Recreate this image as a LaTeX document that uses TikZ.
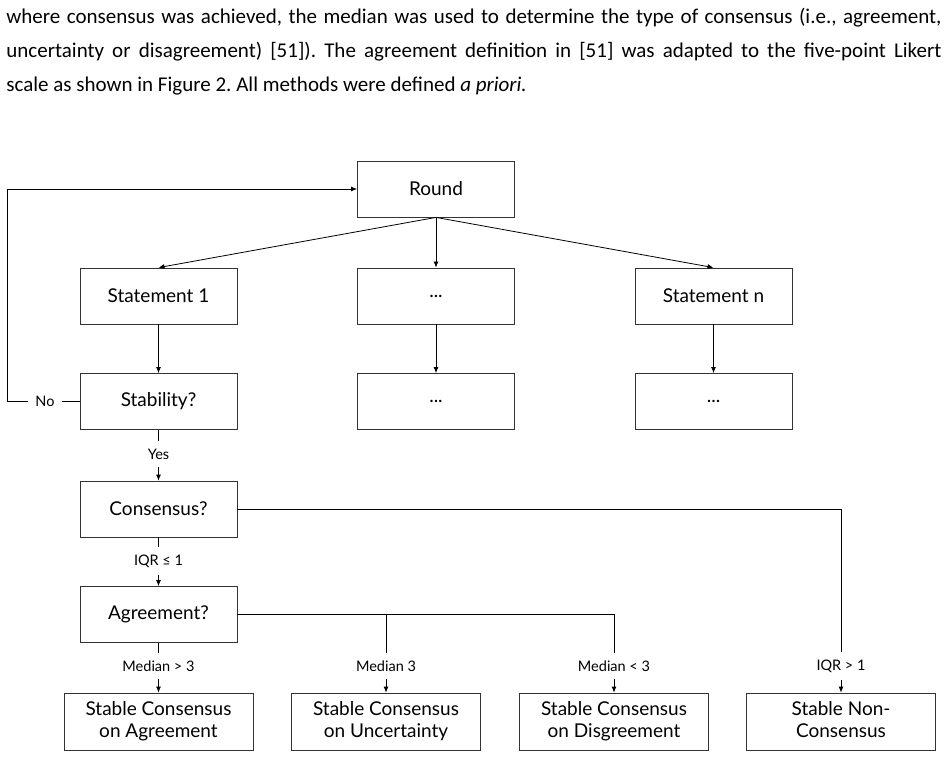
\documentclass[tikz,border=0pt]{standalone}
\usepackage{fontspec}
\usetikzlibrary{arrows.meta, positioning}
\setmainfont{Lato}
\newfontfamily\parafont{Carlito}
\frenchspacing
\tikzset{
    >={Latex[length=6pt, width=5pt]},
    flowbox/.style={draw=black!80, rectangle, minimum width=157pt, minimum height=56pt,
        font=\fontsize{19}{21}\selectfont},
    endbox/.style={draw=black!80, rectangle, minimum width=189pt, minimum height=57pt,
        align=center, font=\fontsize{19}{22}\selectfont},
    edgelabel/.style={inner sep=7pt, font=\fontsize{14.5}{16}\selectfont},
}
\begin{document}
\begin{tikzpicture}[x=1pt, y=-1pt, line width=.8pt]
    \useasboundingbox (0, 0) rectangle (948, 770);
    % text above the figure
    \begin{scope}[every node/.style={anchor=base west, inner sep=0pt,
        font=\parafont\fontsize{21}{24}\selectfont}]
        \node (parone) at (6, 24) {\makebox[935pt][s]{where consensus was achieved, the median was used to determine the type of consensus (i.e., agreement,}};
        \node (partwo) at (6, 58) {\makebox[935pt][s]{uncertainty or disagreement) [51]). The agreement definition in [51] was adapted to the five-point Likert}};
        \node (parthree) at (6, 92) {scale as shown in Figure 2. All methods were defined \textit{a priori.}};
    \end{scope}

    % rounds and statements
    \node[flowbox] (round) at (436, 189) {Round};
    \node[flowbox] (stmtone) at (158.5, 296) {Statement 1};
    \node[flowbox] (stmtdots) at (436, 296) {...};
    \node[flowbox] (stmtn) at (713.5, 296) {Statement n};
    \node[flowbox] (stab) at (158.5, 401.5) {Stability?};
    \node[flowbox] (stabdots) at (436, 401.5) {...};
    \node[flowbox] (stabn) at (713.5, 401.5) {...};
    \node[flowbox] (cons) at (158.5, 509) {Consensus?};
    \node[flowbox] (agree) at (158.5, 614.5) {Agreement?};

    % outcomes
    \node[endbox] (endagree) at (158.5, 721.5) {Stable Consensus\\on Agreement};
    \node[endbox] (enduncert) at (386, 721.5) {Stable Consensus\\on Uncertainty};
    \node[endbox] (enddisagree) at (614, 721.5) {Stable Consensus\\on Disgreement};
    \node[endbox] (endnon) at (841, 721.5) {Stable Non-\\Consensus\vphantom{g}};

    % labels on the lines
    \node[edgelabel] (nolab) at (45, 401.5) {No};
    \node[edgelabel] (yeslab) at (158.5, 454) {Yes};
    \node[edgelabel] (iqrle) at (158.5, 561) {IQR ≤ 1};
    \node[edgelabel] (medgt) at (158.5, 666) {Median > 3};
    \node[edgelabel] (medeq) at (386, 666) {Median 3};
    \node[edgelabel] (medlt) at (614, 666) {Median < 3};
    \node[edgelabel] (iqrgt) at (841, 666) {IQR > 1};
    \coordinate (loopcorner) at (7, 401.5);

    \draw[->] (round.south) -- (stmtone.north);
    \draw[->] (round.south) -- (stmtdots.north);
    \draw[->] (round.south) -- (stmtn.north);
    \draw[->] (stmtone) -- (stab);
    \draw[->] (stmtdots) -- (stabdots);
    \draw[->] (stmtn) -- (stabn);

    \draw (stab.west) -- (nolab.east);
    \draw[->] (nolab.west) -- (loopcorner) |- (round.west);
    \draw (stab.south) -- (yeslab.north);
    \draw[->] (yeslab.south) -- (cons.north);
    \draw (cons.south) -- (iqrle.north);
    \draw[->] (iqrle.south) -- (agree.north);
    \draw (cons.east) -| (iqrgt.north);
    \draw[->] (iqrgt.south) -- (endnon.north);

    \draw (agree.south) -- (medgt.north);
    \draw[->] (medgt.south) -- (endagree.north);
    \draw (agree.east) -| (medlt.north);
    \draw (medeq.north) -- (medeq.north |- agree.east);
    \draw[->] (medeq.south) -- (enduncert.north);
    \draw[->] (medlt.south) -- (enddisagree.north);
\end{tikzpicture}
\end{document}
